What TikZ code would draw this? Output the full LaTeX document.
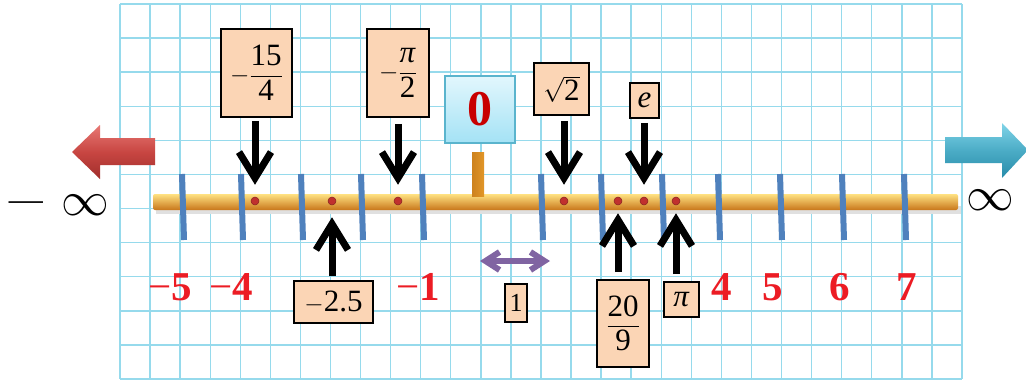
\documentclass[tikz,border=0pt]{standalone}
\usepackage{amsmath}
\usepackage{fontspec}
\setmainfont{Liberation Serif}
\usetikzlibrary{arrows.meta}
\definecolor{gridc}{RGB}{150,218,236}
\definecolor{peach}{RGB}{251,213,181}
\definecolor{tickc}{RGB}{79,129,189}
\definecolor{redlab}{RGB}{236,28,36}
\definecolor{dotc}{RGB}{192,48,46}
\definecolor{purp}{RGB}{128,100,162}
\newcommand\myfs[1]{\fontsize{#1}{#1}\selectfont}
\begin{document}
\begin{tikzpicture}[x=1pt,y=-1pt,
  gridline/.style={draw=gridc,line width=1.4pt},
  tickbar/.style={draw=tickc,line width=6pt},
  dotnode/.style={circle,fill=dotc,draw=dotc!70!black,line width=0.5pt,inner sep=0pt,minimum size=8pt},
  valbox/.style={draw=black,line width=1.6pt,fill=peach,inner sep=0pt,font=\myfs{31}},
  ptr/.style={draw=black,line width=7pt,-{Straight Barb[length=26pt,width=32pt,line width=7pt]}},
  purpptr/.style={draw=purp,line width=6pt,{Straight Barb[length=14pt,width=18pt,line width=6pt]}-{Straight Barb[length=14pt,width=18pt,line width=6pt]}},
  redlabel/.style={text=redlab,inner sep=0pt,anchor=base,font=\myfs{41}},
  inflabel/.style={inner sep=0pt,font=\myfs{20},scale=2.3}
]
\useasboundingbox (0,0) rectangle (1026,381);
\fill[white] (0,0) rectangle (1026,381);
% grid
\foreach \i in {0,...,28} \draw[gridline] ({120+30.07*\i},4) -- ({120+30.07*\i},379);
\foreach \j in {0,...,11} \draw[gridline] (120,{4+34.09*\j}) -- (962,{4+34.09*\j});
% direction arrows
\shade[top color={rgb,255:red,232;green,120;blue,116}, bottom color={rgb,255:red,160;green,46;blue,43}, middle color={rgb,255:red,200;green,70;blue,66}]
  (72,152) -- (100,125) -- (100,138) -- (155,138) -- (155,165) -- (100,165) -- (100,179) -- cycle;
\shade[top color={rgb,255:red,128;green,212;blue,232}, bottom color={rgb,255:red,40;green,140;blue,170}, middle color={rgb,255:red,75;green,172;blue,198}]
  (1028,150) -- (1002,123) -- (1002,137) -- (945,137) -- (945,163) -- (1002,163) -- (1002,178) -- cycle;
% bar
\fill[black!12] (156,206) rectangle (961,214);
\shade[top color={rgb,255:red,255;green,226;blue,130}, middle color={rgb,255:red,244;green,176;blue,60}, bottom color={rgb,255:red,200;green,118;blue,26}, rounded corners=2pt]
  (153,194) rectangle (958,210);
% zero stub
\shade[left color={rgb,255:red,205;green,130;blue,30}, middle color={rgb,255:red,255;green,220;blue,110}, right color={rgb,255:red,225;green,150;blue,40}]
  (472,152) rectangle (484,196);
% ticks
\foreach \x in {183,242,302,362,423,542,602,663,719,781,843,905}
  \draw[tickbar] ({\x-1},174) -- ({\x+1},240);
% dots
\node[dotnode] (d1) at (255,201) {};
\node[dotnode] (d2) at (332,201) {};
\node[dotnode] (d3) at (398,201) {};
\node[dotnode] (d4) at (564,201) {};
\node[dotnode] (d5) at (618,201) {};
\node[dotnode] (d6) at (644,201) {};
\node[dotnode] (d7) at (676,201) {};
% boxes
\node[valbox,minimum width=71pt,minimum height=88pt] (b1) at (256.5,73) {$-\dfrac{\text{15}}{\text{4}}$};
\node[valbox,minimum width=62pt,minimum height=88pt] (b3) at (398,73) {$-\dfrac{\text{\textit{π}}}{\text{2}}$};
\node[valbox,minimum width=55pt,minimum height=52pt] (b4) at (561.5,89) {$\sqrt{\text{2}}$};
\node[valbox,minimum width=29pt,minimum height=35pt] (b6) at (644.5,100.5) {\textit{e}};
\node[valbox,minimum width=79pt,minimum height=42pt] (b2) at (333.5,302) {$-\text{2.5}$};
\node[valbox,minimum width=22pt,minimum height=38pt,font=\myfs{26}] (bu) at (516,303) {1};
\node[valbox,minimum width=52pt,minimum height=87pt] (b5) at (623,323.5) {$\dfrac{\text{20}}{\text{9}}$};
\node[valbox,minimum width=35pt,minimum height=35pt] (b7) at (681.5,299.5) {\textit{π}};
\node[draw={rgb,255:red,90;green,180;blue,205},line width=1.2pt,top color={rgb,255:red,226;green,247;blue,253},bottom color={rgb,255:red,164;green,226;blue,245},minimum width=70pt,minimum height=67pt,inner sep=0pt,text={rgb,255:red,200;green,0;blue,0},font=\myfs{50}\bfseries] (b0) at (480,109.5) {0};
% pointer arrows
\draw[ptr,shorten <=3pt,shorten >=12pt] (b1.south -| d1) -- (d1);
\draw[ptr,shorten <=6pt,shorten >=12pt] (b3.south -| d3) -- (d3);
\draw[ptr,shorten <=5pt,shorten >=12pt] (b4.south -| d4) -- (d4);
\draw[ptr,shorten <=4pt,shorten >=12pt] (b6.south -| d6) -- (d6);
\draw[ptr,shorten <=4pt,shorten >=12pt] (b2.north -| d2) -- (d2);
\draw[ptr,shorten <=7pt,shorten >=8pt] (b5.north -| d5) -- (d5);
\draw[ptr,shorten <=7pt,shorten >=8pt] (b7.north -| d7) -- (d7);
% unit arrow
\coordinate (u0) at (480,261);
\coordinate (u1) at (550,261);
\draw[purpptr] (u0) -- (u1);
% red labels
\node[redlabel] (lm5) at (170,300) {−\textbf{5}};
\node[redlabel] (lm4) at (231.5,300) {−\textbf{4}};
\node[redlabel] (lm1) at (418.5,300) {−\textbf{1}};
\node[redlabel] (l4) at (722,300) {\textbf{4}};
\node[redlabel] (l5) at (773,300) {\textbf{5}};
\node[redlabel] (l6) at (840,300) {\textbf{6}};
\node[redlabel] (l7) at (907,300) {\textbf{7}};
% infinity labels
\node[inner sep=0pt,font=\myfs{34}] (mdash) at (26,206) {—};
\node[inflabel] (ninf) at (85,205) {$\infty$};
\node[inflabel] (pinf) at (990,200) {$\infty$};
\end{tikzpicture}
\end{document}
